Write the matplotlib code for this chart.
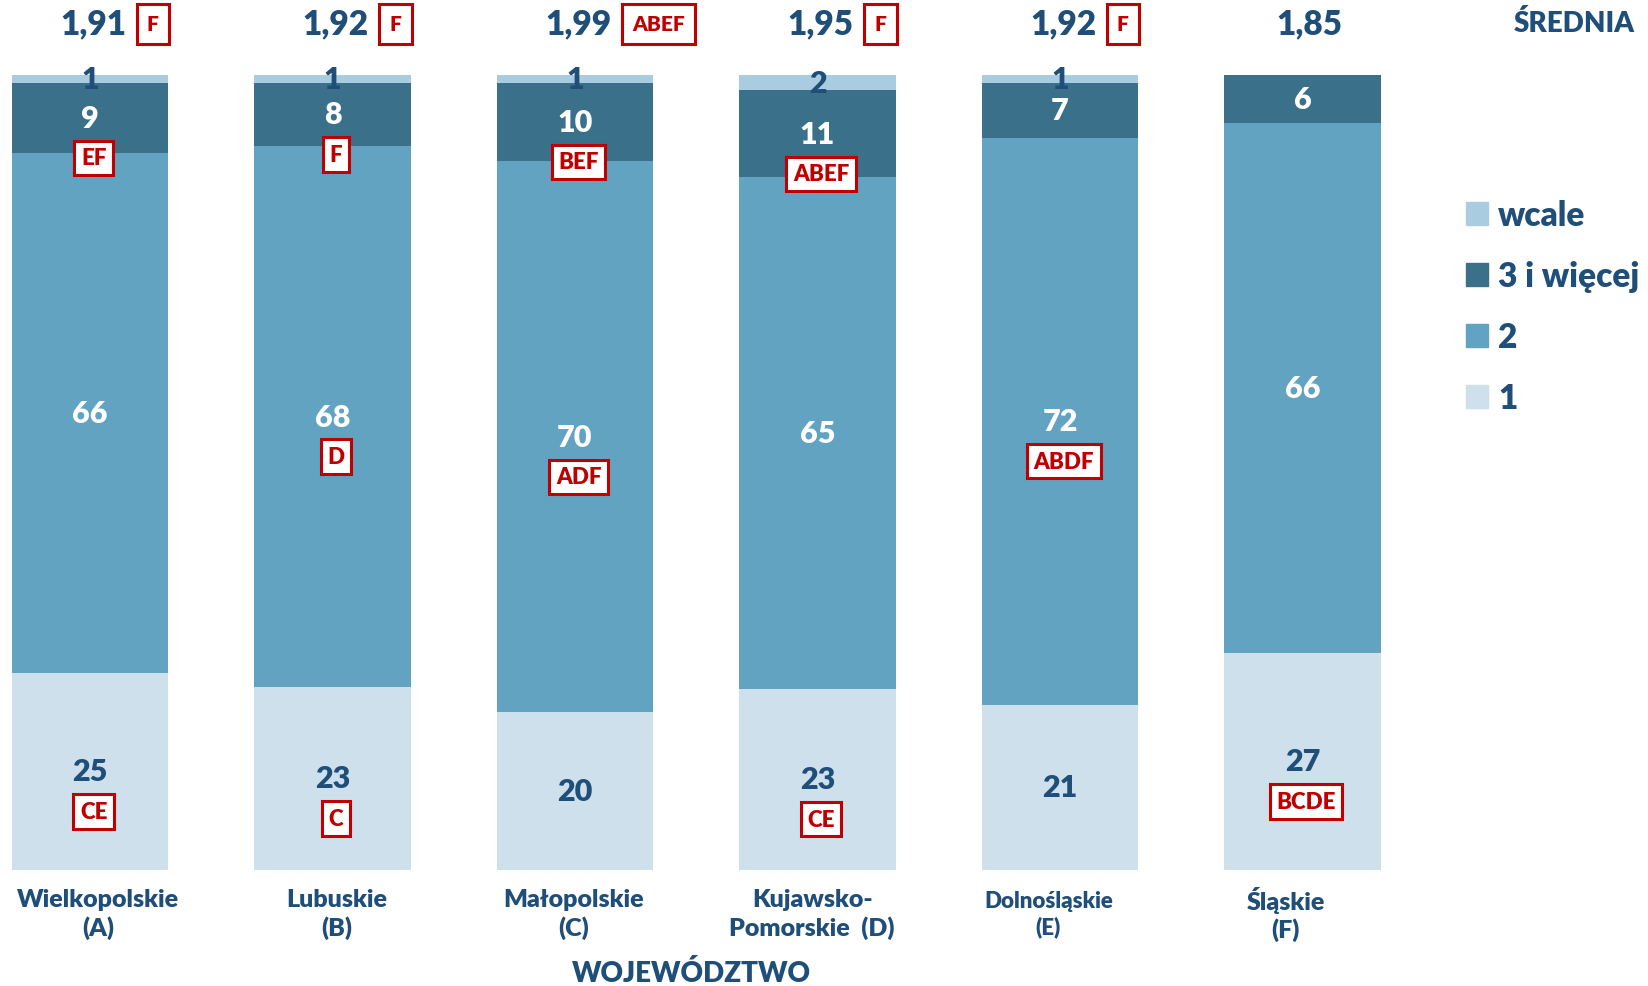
import numpy as np
import matplotlib.pyplot as plt
from matplotlib.patches import Patch

plt.rcParams['font.family'] = ['Lato', 'DejaVu Sans']
W = 'heavy'

# województwa
regions = ['Wielkopolskie\n(A)', 'Lubuskie\n(B)', 'Małopolskie\n(C)',
           'Kujawsko-\nPomorskie  (D)', 'Dolnośląskie\n(E)', 'Śląskie\n(F)']

# odsetki odpowiedzi (stack od dołu: 1, 2, 3 i więcej, wcale)
v_1 = [25, 23, 20, 23, 21, 27]
v_2 = [66, 68, 70, 65, 72, 66]
v_3 = [9, 8, 10, 11, 7, 6]
v_wcale = [1, 1, 1, 2, 1, 0]

# istotne różnice (litery województw)
sig_1 = ['CE', 'C', '', 'CE', '', 'BCDE']
sig_2 = ['', 'D', 'ADF', '', 'ABDF', '']
sig_3 = ['EF', 'F', 'BEF', 'ABEF', '', '']
sig_wcale = ['', '', '', '', '', '']

means = [1.91, 1.92, 1.99, 1.95, 1.92, 1.85]
sig_mean = ['F', 'F', 'ABEF', 'F', 'F', '']

series_names = ['1', '2', '3 i więcej', 'wcale']
colors = ['#cde0eb', '#62a3c2', '#3a7089', '#a9cce0']
text_colors = ['#1f4e79', 'white', 'white', '#1f4e79']

navy = '#1f4e79'
red = '#c00000'

data = np.array([v_1, v_2, v_3, v_wcale], dtype=float)
sigs = [sig_1, sig_2, sig_3, sig_wcale]
pct = data / data.sum(axis=0) * 100

fig = plt.figure(figsize=(16.49, 9.87), dpi=100)
ax = fig.add_axes([0, 0, 1, 1])
x = np.arange(len(regions))
ppu = 987 / (109.52 + 14.61)  # pixels per data unit (y)

bottom = np.zeros(len(regions))
for k in range(4):
    ax.bar(x, pct[k], bottom=bottom, width=0.646, color=colors[k],
           label=series_names[k])
    for i in range(len(regions)):
        if data[k, i] == 0:
            continue
        yc = bottom[i] + pct[k, i] / 2
        ax.text(x[i], yc, f'{int(data[k, i])}', ha='center', va='center',
                fontsize=22, color=text_colors[k], fontweight=W)
        if sigs[k][i]:
            ax.text(x[i] + 0.015, yc - 40 / ppu, sigs[k][i], ha='center',
                    va='center', fontsize=16, color=red, fontweight=W,
                    bbox=dict(boxstyle='square,pad=0.3', fc='white',
                              ec=red, lw=2.2))
    bottom += pct[k]

# średnie nad słupkami
y_mean = 106.4
for i, m in enumerate(means):
    txt = f'{m:.2f}'.replace('.', ',')
    if sig_mean[i]:
        ax.text(x[i] + 0.15, y_mean, txt, ha='right', va='center',
                fontsize=24, color=navy, fontweight=W)
        ax.text(x[i] + 0.235, y_mean, sig_mean[i], ha='left', va='center',
                fontsize=15, color=red, fontweight=W,
                bbox=dict(boxstyle='square,pad=0.5', fc='white', ec=red,
                          lw=2.2))
    else:
        ax.text(x[i] + 0.03, y_mean, txt, ha='center', va='center',
                fontsize=24, color=navy, fontweight=W)

# etykiety województw
label_dx = [0.033, 0.017, -0.004, -0.022, -0.048, -0.069]
label_fs = [18, 18, 18, 18, 16, 18]
for i, name in enumerate(regions):
    ax.text(x[i] + label_dx[i], -5.5, name, ha='center', va='center',
            fontsize=label_fs[i], color=navy, fontweight=W, linespacing=1.25)

ax.text(2.479, -12.86, 'WOJEWÓDZTWO', ha='center', va='center', fontsize=20,
        color=navy, fontweight=W)
fig.text(1574 / 1649, 1 - 24 / 987, 'ŚREDNIA', ha='center', va='center',
         fontsize=20, color=navy, fontweight=W)

handles = [Patch(color=colors[k], label=series_names[k]) for k in range(3, -1, -1)]
fig.legend(handles=handles, loc='upper left',
           bbox_to_anchor=(1436 / 1649, 1 - 170 / 987), frameon=False,
           labelcolor=navy, handlelength=0.66, handleheight=0.66,
           handletextpad=0.3, labelspacing=0.87,
           prop={'family': ['Lato', 'DejaVu Sans'], 'weight': W, 'size': 24})

ax.set_xlim(-0.371, 6.429)
ax.set_ylim(-14.61, 109.52)
ax.axis('off')

fig.savefig('out.png', dpi=100)
